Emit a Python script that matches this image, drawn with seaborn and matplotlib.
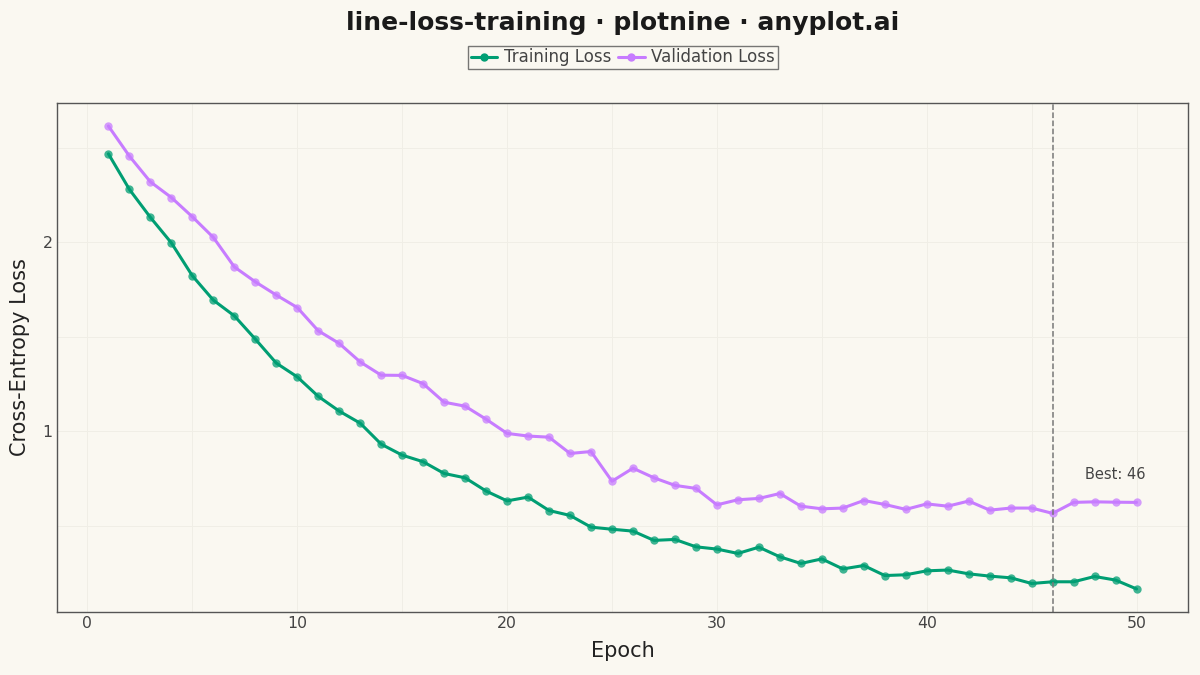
import numpy as np
import pandas as pd
import matplotlib
matplotlib.use("Agg")
import matplotlib.pyplot as plt
import seaborn as sns

# data
epochs = list(range(1, 51))
train_loss = [2.467, 2.279, 2.131, 1.996, 1.822, 1.693, 1.610, 1.487, 1.360, 1.287,
              1.184, 1.106, 1.042, 0.931, 0.873, 0.838, 0.776, 0.753, 0.683, 0.631,
              0.651, 0.580, 0.554, 0.492, 0.481, 0.471, 0.422, 0.427, 0.388, 0.376,
              0.353, 0.386, 0.335, 0.300, 0.324, 0.271, 0.289, 0.236, 0.240, 0.261,
              0.265, 0.245, 0.233, 0.224, 0.194, 0.203, 0.203, 0.231, 0.212, 0.165]
val_loss = [2.614, 2.455, 2.319, 2.236, 2.134, 2.025, 1.869, 1.790, 1.720, 1.654,
            1.531, 1.464, 1.366, 1.296, 1.295, 1.251, 1.153, 1.132, 1.063, 0.988,
            0.974, 0.968, 0.882, 0.892, 0.735, 0.804, 0.753, 0.713, 0.697, 0.610,
            0.637, 0.644, 0.670, 0.603, 0.589, 0.593, 0.633, 0.612, 0.586, 0.615,
            0.603, 0.630, 0.582, 0.593, 0.593, 0.565, 0.623, 0.626, 0.624, 0.623]
series_names = ["Training Loss", "Validation Loss"]
colors = ["#009E73", "#C77CFF"]
best_epoch = 46

bg = "#FAF8F1"
df = pd.DataFrame({
    "Epoch": epochs * 2,
    "Loss": train_loss + val_loss,
    "Series": [series_names[0]] * 50 + [series_names[1]] * 50,
})

sns.set_theme(style="white")
plt.rcParams["font.family"] = ["DejaVu Sans"]

fig = plt.figure(figsize=(12, 6.75), dpi=100, facecolor=bg)
ax = fig.add_axes([0.0475, 0.0933, 0.9425, 0.7541])
ax.set_facecolor(bg)

sns.lineplot(data=df, x="Epoch", y="Loss", hue="Series", palette=colors,
             marker="o", markersize=6, linewidth=2.2, markeredgewidth=0,
             ax=ax, legend=False)
for line in ax.lines:
    line.set_markerfacecolor(matplotlib.colors.to_rgba(line.get_color(), 0.75))

ax.axvline(best_epoch, color="#777777", linestyle="--", linewidth=1.1)
ax.text(best_epoch + 3, val_loss[best_epoch - 1] + 0.205, f"Best: {best_epoch}",
        ha="center", va="center", fontsize=10.5, color="#444444")

ax.set_xlim(-1.45, 52.45)
ax.set_ylim(0.043, 2.736)
ax.set_xticks([0, 10, 20, 30, 40, 50])
ax.set_xticks([5, 15, 25, 35, 45], minor=True)
ax.set_yticks([1, 2])
ax.set_yticks([0.5, 1.5, 2.5], minor=True)
ax.grid(True, which="both", color="#F0EEE6", linewidth=0.7)
ax.tick_params(axis="both", which="major", labelsize=11.3, colors="#444444",
               length=0, pad=3)
ax.tick_params(which="minor", length=0)
for s in ax.spines.values():
    s.set_color("#555555")
    s.set_linewidth(1.0)

ax.set_xlabel("Epoch", fontsize=15, color="#222222", labelpad=7)
ax.set_ylabel("Cross-Entropy Loss", fontsize=15, color="#222222", labelpad=9)

# title centred over the panel, as in the reference
fig.suptitle("line-loss-training · plotnine · anyplot.ai", fontsize=18,
             fontweight="bold", color="#1a1a1a", x=0.519, y=0.966, va="center")

handles = [matplotlib.lines.Line2D([], [], color=c, marker="o", markersize=5,
                                   linewidth=2.2) for c in colors]
leg = fig.legend(handles, series_names, loc="center", ncol=2,
                 bbox_to_anchor=(0.519, 0.915), fontsize=12, frameon=True,
                 fancybox=False, handlelength=1.6, handletextpad=0.4,
                 columnspacing=0.4, borderpad=0.15, labelcolor="#444444")
leg.get_frame().set_edgecolor("#555555")
leg.get_frame().set_facecolor(bg)
leg.get_frame().set_linewidth(1.0)

fig.savefig("out.png", dpi=100, facecolor=bg)
